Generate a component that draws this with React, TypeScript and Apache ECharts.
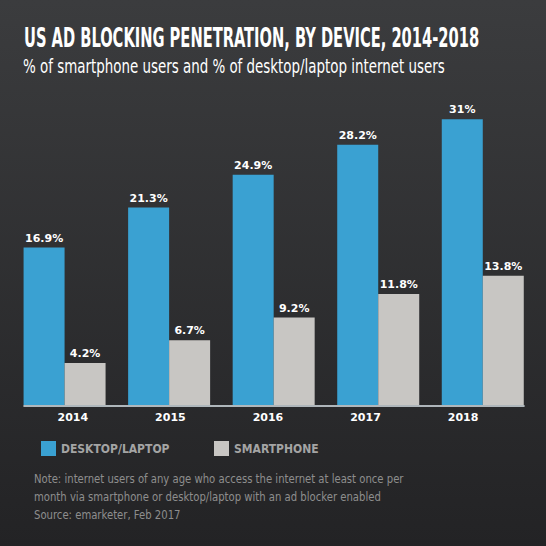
import React, { useEffect, useRef } from 'react';
import * as echarts from 'echarts';

const years = ['2014', '2015', '2016', '2017', '2018'];
const desktop = [16.9, 21.3, 24.9, 28.2, 31];
const smartphone = [4.2, 6.7, 9.2, 11.8, 13.8];
const seriesNames = ['DESKTOP/LAPTOP', 'SMARTPHONE'];
const titleText = 'US AD BLOCKING PENETRATION, BY DEVICE, 2014-2018';
const subtitleText = '% of smartphone users and % of desktop/laptop internet users';
const noteLines = [
  'Note: internet users of any age who access the internet at least once per',
  'month via smartphone or desktop/laptop with an ad blocker enabled',
  'Source: emarketer, Feb 2017',
];

const BLUE = '#3aa1d2';
const GRAY = '#c8c6c3';

function pickFont(ctx: CanvasRenderingContext2D, names: string[], fallback: string) {
  const s = 'mmmmmwwwwlllliiiiDESKTOP0123456789';
  for (const n of names) {
    let differs = false;
    for (const g of ['monospace', 'serif']) {
      ctx.font = `40px ${g}`;
      const a = ctx.measureText(s).width;
      ctx.font = `40px '${n}', ${g}`;
      const b = ctx.measureText(s).width;
      if (a !== b) differs = true;
    }
    if (differs) return n;
  }
  return fallback;
}

export default function App() {
  const ref = useRef<HTMLDivElement>(null);
  useEffect(() => {
    document.body.style.margin = '0';
    if (!ref.current) return;
    const ctx = document.createElement('canvas').getContext('2d')!;
    const cond = pickFont(ctx, ['Liberation Sans Narrow', 'DejaVu Sans Condensed', 'Roboto Condensed'], 'Roboto');
    const measure = (t: string, font: string) => {
      ctx.font = font;
      return ctx.measureText(t).width;
    };
    const titleScale = 455 / measure(titleText, `bold 27px '${cond}'`);
    const subScale = 422 / measure(subtitleText, `normal 20px '${cond}'`);
    const noteScale = 370 / measure(noteLines[0], `normal 12.5px '${cond}'`);

    const chart = echarts.init(ref.current, undefined, { renderer: 'svg' });
    const labelStyle = {
      show: true,
      position: 'top' as const,
      distance: 4,
      color: '#ffffff',
      fontFamily: 'DejaVu Sans',
      fontWeight: 'bold' as const,
      fontSize: 11,
      formatter: (p: any) => `${p.value}%`,
    };
    const legendBase = {
      top: 436,
      itemWidth: 15,
      itemHeight: 15,
      icon: 'rect',
      selectedMode: false,
      textStyle: {
        color: '#a4a4a4',
        fontSize: 12,
        fontWeight: 'bold',
        fontFamily: cond,
      },
    };
    chart.setOption({
      animation: false,
      backgroundColor: new echarts.graphic.LinearGradient(0, 0, 0, 1, [
        { offset: 0, color: '#3b3c3e' },
        { offset: 1, color: '#232325' },
      ]),
      grid: [
        { left: 12.3, right: 10.95, top: 83, bottom: 141 },
        { left: 24.1, right: 34.15, top: 83, bottom: 140 },
        { left: 24, right: 22, top: 83, bottom: 140 },
      ],
      xAxis: [
        { type: 'category', gridIndex: 0, data: years, show: false },
        {
          type: 'category',
          gridIndex: 1,
          data: years,
          axisLine: { show: false },
          axisTick: { show: false },
          axisLabel: {
            color: '#ffffff',
            fontFamily: 'DejaVu Sans',
            fontWeight: 'bold',
            fontSize: 11,
            margin: 6,
          },
        },
        {
          type: 'category',
          gridIndex: 2,
          data: years,
          axisLine: { show: true, lineStyle: { color: '#dce6eb', width: 1.6 } },
          axisTick: { show: false },
          axisLabel: { show: false },
        },
      ],
      yAxis: [
        { type: 'value', gridIndex: 0, min: -0.42, startValue: -0.42, max: 35, show: false, splitLine: { show: false } },
        { type: 'value', gridIndex: 1, min: 0, max: 1, show: false },
        { type: 'value', gridIndex: 2, min: 0, max: 1, show: false },
      ],
      legend: [
        { ...legendBase, left: 36, data: [seriesNames[0]] },
        { ...legendBase, left: 209, data: [seriesNames[1]] },
      ],
      series: [
        {
          name: seriesNames[0],
          type: 'bar',
          xAxisIndex: 0,
          yAxisIndex: 0,
          data: desktop,
          barWidth: 41,
          barGap: '0%',
          itemStyle: { color: BLUE },
          label: labelStyle,
          clip: false,
        },
        {
          name: seriesNames[1],
          type: 'bar',
          xAxisIndex: 0,
          yAxisIndex: 0,
          data: smartphone,
          barWidth: 41,
          barGap: '0%',
          itemStyle: { color: GRAY },
          label: labelStyle,
          clip: false,
        },
      ],
      graphic: [
        {
          type: 'text',
          x: 24,
          y: 37.5,
          scaleX: titleScale,
          style: {
            text: titleText,
            fill: '#ffffff',
            fontSize: 27,
            fontWeight: 'bold',
            fontFamily: cond,
            align: 'left',
            verticalAlign: 'middle',
            textAlign: 'left',
            textVerticalAlign: 'middle',
          },
        },
        {
          type: 'text',
          x: 23,
          y: 66,
          scaleX: subScale,
          style: {
            text: subtitleText,
            fill: '#ffffff',
            fontSize: 20,
            fontFamily: cond,
            align: 'left',
            verticalAlign: 'middle',
            textAlign: 'left',
            textVerticalAlign: 'middle',
          },
        },
        ...noteLines.map((t, i) => ({
          type: 'text',
          x: 34,
          y: 478.3 + i * 18,
          scaleX: noteScale,
          style: {
            text: t,
            fill: '#8e8e8e',
            fontSize: 12.5,
            fontFamily: cond,
            align: 'left',
            verticalAlign: 'middle',
            textAlign: 'left',
            textVerticalAlign: 'middle',
          },
        })),
      ],
    });
    return () => chart.dispose();
  }, []);
  return <div ref={ref} style={{ width: 546, height: 546, background: '#2d2e30' }} />;
}
